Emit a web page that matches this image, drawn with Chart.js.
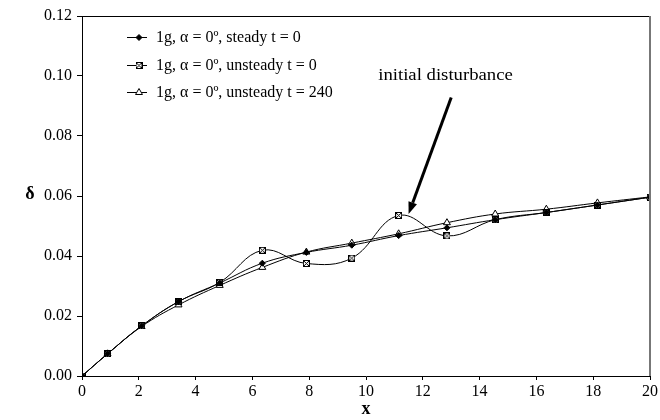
<!DOCTYPE html>
<html>
<head>
<meta charset="utf-8">
<script src="https://cdn.jsdelivr.net/npm/chart.js@4"></script>
<style>
  html, body { margin: 0; padding: 0; background: #fff; overflow: hidden; }
  #wrap { width: 660px; height: 420px; }
</style>
</head>
<body>
<div id="wrap"><canvas id="chart" width="660" height="420"></canvas></div>
<script>
const xs = [0, 0.9, 2.1, 3.4, 4.85, 6.35, 7.9, 9.5, 11.15, 12.85, 14.55, 16.35, 18.15, 20];
const steady = [0, 0.0074, 0.0167, 0.0248, 0.0310, 0.0376, 0.0412, 0.0436, 0.0468, 0.0494, 0.0521, 0.0545, 0.0570, 0.0596];
const unsteady0 = [0, 0.0074, 0.0167, 0.0248, 0.0312, 0.0419, 0.0375, 0.0393, 0.0535, 0.0467, 0.0521, 0.0545, 0.0570, 0.0596];
const unsteady240 = [0, 0.0074, 0.0165, 0.0237, 0.0302, 0.0362, 0.0413, 0.0443, 0.0474, 0.0511, 0.0540, 0.0556, 0.0577, 0.0597];
const seriesLabels = ['1g, \u03b1 = 0\u00ba, steady t = 0', '1g, \u03b1 = 0\u00ba, unsteady t = 0', '1g, \u03b1 = 0\u00ba, unsteady t = 240'];
const yTicks = [0, 0.02, 0.04, 0.06, 0.08, 0.10, 0.12];
const xTicks = [0, 2, 4, 6, 8, 10, 12, 14, 16, 18, 20];
const note = 'initial disturbance';
const noteText = { x: 12.8, y: 0.100 };
const noteArrow = { x0: 13.0, y0: 0.0928, x1: 11.5, y1: 0.0540 };

const FONT = '"Liberation Serif", "DejaVu Serif", serif';

// boxed-X marker for the unsteady t = 0 series
function boxX() {
  const c = document.createElement('canvas');
  c.width = 7; c.height = 7;
  const g = c.getContext('2d');
  g.fillStyle = '#fff';
  g.fillRect(0, 0, 7, 7);
  g.strokeStyle = '#000';
  g.lineWidth = 1;
  g.strokeRect(0.5, 0.5, 6, 6);
  g.beginPath();
  g.moveTo(1, 1); g.lineTo(6, 6);
  g.moveTo(6, 1); g.lineTo(1, 6);
  g.stroke();
  return c;
}

const pts = arr => xs.map((x, i) => ({ x: x, y: arr[i] }));

const extras = {
  id: 'extras',
  afterDraw(chart) {
    const { ctx, chartArea: a, scales: { x, y } } = chart;
    ctx.save();
    // frame top / right
    ctx.strokeStyle = '#000';
    ctx.lineWidth = 1;
    ctx.beginPath();
    ctx.moveTo(a.left, a.top + 0.5);
    ctx.lineTo(a.right, a.top + 0.5);
    ctx.stroke();
    ctx.strokeStyle = '#777';
    ctx.lineWidth = 2;
    ctx.beginPath();
    ctx.moveTo(a.right, a.top);
    ctx.lineTo(a.right, a.bottom);
    ctx.stroke();

    // axis titles
    ctx.fillStyle = '#000';
    ctx.font = 'bold 18px ' + FONT;
    ctx.textAlign = 'center';
    ctx.textBaseline = 'middle';
    ctx.fillText('\u03b4', 30, y.getPixelForValue(0.06) - 2);
    ctx.fillText('x', x.getPixelForValue(10), 409);

    // legend
    ctx.font = '16px ' + FONT;
    ctx.textAlign = 'left';
    const rows = [37, 65, 92];
    chart.data.datasets.forEach((ds, i) => {
      const yy = rows[i];
      ctx.strokeStyle = '#000';
      ctx.lineWidth = 1;
      ctx.beginPath();
      ctx.moveTo(127, yy + 0.5);
      ctx.lineTo(147, yy + 0.5);
      ctx.stroke();
      ctx.fillStyle = ds.pointBackgroundColor || '#fff';
      ctx.strokeStyle = '#000';
      Chart.helpers.drawPoint(ctx, {
        pointStyle: ds.pointStyle,
        radius: ds.pointRadius,
        borderWidth: 1,
        rotation: 0
      }, 139, yy + 0.5);
      ctx.fillStyle = '#000';
      ctx.fillText(ds.label, 156, yy + 1);
    });

    // annotation text, a little wider than the legend font
    const tx = x.getPixelForValue(noteText.x), ty = y.getPixelForValue(noteText.y);
    ctx.font = '16px ' + FONT;
    ctx.textAlign = 'center';
    ctx.save();
    ctx.translate(tx, ty);
    ctx.scale(1.17, 1);
    ctx.fillText(note, 0, 0);
    ctx.restore();

    // arrow
    const ax0 = x.getPixelForValue(noteArrow.x0), ay0 = y.getPixelForValue(noteArrow.y0);
    const ax1 = x.getPixelForValue(noteArrow.x1), ay1 = y.getPixelForValue(noteArrow.y1);
    const ang = Math.atan2(ay1 - ay0, ax1 - ax0);
    const head = 12, hw = 4.5;
    const bx = ax1 - head * Math.cos(ang), by = ay1 - head * Math.sin(ang);
    ctx.strokeStyle = '#000';
    ctx.lineWidth = 3;
    ctx.beginPath();
    ctx.moveTo(ax0, ay0);
    ctx.lineTo(bx, by);
    ctx.stroke();
    ctx.fillStyle = '#000';
    ctx.beginPath();
    ctx.moveTo(ax1, ay1);
    ctx.lineTo(bx + hw * Math.sin(ang), by - hw * Math.cos(ang));
    ctx.lineTo(bx - hw * Math.sin(ang), by + hw * Math.cos(ang));
    ctx.closePath();
    ctx.fill();
    ctx.restore();
  }
};

const boxMarker = boxX();

new Chart(document.getElementById('chart'), {
  type: 'line',
  data: {
    datasets: [
      {
        label: seriesLabels[0],
        data: pts(steady),
        borderColor: '#000',
        borderWidth: 1,
        pointStyle: 'rectRot',
        pointRadius: 3,
        pointBackgroundColor: '#000',
        pointBorderColor: '#000',
        pointBorderWidth: 1,
        tension: 0.4
      },
      {
        label: seriesLabels[1],
        data: pts(unsteady0),
        borderColor: '#000',
        borderWidth: 1,
        pointStyle: boxMarker,
        pointRadius: 3.5,
        tension: 0.4
      },
      {
        label: seriesLabels[2],
        data: pts(unsteady240),
        borderColor: '#000',
        borderWidth: 1,
        pointStyle: 'triangle',
        pointRadius: 4,
        pointBackgroundColor: '#fff',
        pointBorderColor: '#000',
        pointBorderWidth: 1,
        tension: 0.4
      }
    ]
  },
  options: {
    responsive: false,
    animation: false,
    devicePixelRatio: 1,
    layout: { padding: { top: 16, right: 9, left: 0, bottom: 0 } },
    plugins: {
      legend: { display: false },
      tooltip: { enabled: false }
    },
    scales: {
      x: {
        type: 'linear',
        min: 0,
        max: 20,
        afterFit: s => { s.height = 44; },
        afterBuildTicks: s => { s.ticks = xTicks.map(v => ({ value: v })); },
        grid: { drawOnChartArea: false, tickLength: 4, color: '#000' },
        border: { color: '#000', width: 1 },
        ticks: {
          color: '#000',
          font: { family: FONT, size: 16 },
          padding: 2,
          maxRotation: 0
        }
      },
      y: {
        min: 0,
        max: 0.12,
        afterFit: s => { s.width = 82; },
        afterBuildTicks: s => { s.ticks = yTicks.map(v => ({ value: v })); },
        grid: { drawOnChartArea: false, tickLength: 5, color: '#000' },
        border: { color: '#000', width: 1 },
        ticks: {
          color: '#000',
          font: { family: FONT, size: 16 },
          padding: 5,
          callback: v => v.toFixed(2)
        }
      }
    }
  },
  plugins: [extras]
});
</script>
</body>
</html>
